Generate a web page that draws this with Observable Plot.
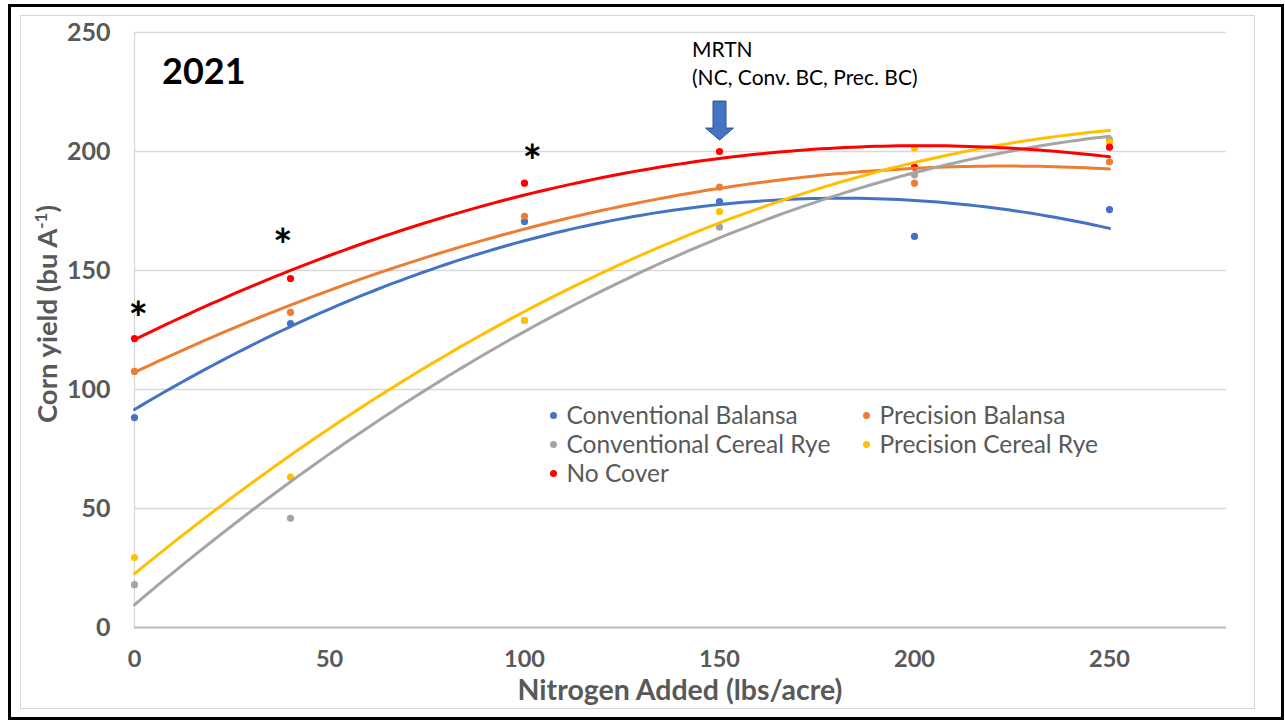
<!DOCTYPE html>
<html><head><meta charset="utf-8">
<script src="https://cdn.jsdelivr.net/npm/d3@7"></script>
<script src="https://cdn.jsdelivr.net/npm/@observablehq/plot@0.6"></script>
<style>
body{margin:0;background:#fff;font-family:Lato,"Open Sans",sans-serif;}
#wrap{position:relative;width:1285px;height:721px;overflow:hidden;background:#fff;}
#outer{position:absolute;left:8px;top:4px;width:1276px;height:716px;border:3px solid #000;box-sizing:border-box;}
#inner{position:absolute;left:20px;top:15px;width:1235px;height:694px;border:1.5px solid #d6d6d6;box-sizing:border-box;}
#chart{position:absolute;left:0;top:0;}
.t{position:absolute;white-space:nowrap;}
#year{left:162px;top:52px;font-size:36px;line-height:36px;font-weight:bold;color:#000;}
#mrtn{left:692px;top:35px;font-size:21px;line-height:28px;color:#000;}
#xtitle{left:180px;width:1000px;top:675px;text-align:center;font-size:28.5px;line-height:28px;font-weight:bold;color:#595959;}
#ytitle{left:-153px;width:400px;top:298px;height:32px;text-align:center;font-size:27.5px;line-height:32px;font-weight:bold;color:#595959;transform:rotate(-90deg);}
#ytitle sup{font-size:17px;line-height:0;vertical-align:10px;}
.lg{position:absolute;font-size:24.5px;line-height:28px;color:#595959;white-space:nowrap;}
.lg i{position:absolute;width:7px;height:7px;border-radius:50%;top:11px;}
</style>
</head><body>
<div id="wrap">
  <div id="outer"></div>
  <div id="inner"></div>
  <div id="chart"></div>
  <div class="t" id="year">2021</div>
  <div class="t" id="mrtn">MRTN<br>(NC, Conv. BC, Prec. BC)</div>
  <div class="t" id="xtitle">Nitrogen Added (lbs/acre)</div>
  <div class="t" id="ytitle">Corn yield (bu A<sup>-1</sup>)</div>
  <div id="legend"></div>
</div>
<script>
// ---- data ----
const nitrogen = [0, 40, 100, 150, 200, 250];
const seriesNames = ["Conventional Balansa", "Precision Balansa", "Conventional Cereal Rye", "Precision Cereal Rye", "No Cover"];
const seriesColors = ["#4472c4", "#ed7d31", "#a5a5a5", "#ffc000", "#ff0000"];
const convBalansa = [88.2, 127.7, 170.6, 179.0, 164.3, 175.6];
const precBalansa = [107.6, 132.4, 172.8, 185.0, 186.7, 195.7];
const convRye     = [18.0, 45.9, 129.0, 168.2, 190.2, 205.0];
const precRye     = [29.4, 63.2, 129.0, 174.8, 201.5, 204.0];
const noCover     = [121.4, 146.6, 186.7, 200.0, 193.4, 201.8];
const xTicks = [0, 50, 100, 150, 200, 250];
const yTicks = [0, 50, 100, 150, 200, 250];
const asterisks = [{x: 1, y: 134}, {x: 38, y: 165}, {x: 102, y: 200}];
const mrtnArrow = [{x: 150, y: 213}];

const seriesValues = [convBalansa, precBalansa, convRye, precRye, noCover];
const points = seriesNames.flatMap((s, i) => nitrogen.map((n, j) => ({series: s, x: n, y: seriesValues[i][j]})));

// quadratic least-squares trendline (as Excel's order-2 polynomial trendline)
function quadFit(xs, ys) {
  const S = [0,0,0,0,0], T = [0,0,0];
  xs.forEach((x, i) => { for (let k = 0; k < 5; k++) S[k] += x ** k; for (let k = 0; k < 3; k++) T[k] += ys[i] * x ** k; });
  const A = [[S[0],S[1],S[2],T[0]],[S[1],S[2],S[3],T[1]],[S[2],S[3],S[4],T[2]]];
  for (let c = 0; c < 3; c++) {
    for (let r = c + 1; r < 3; r++) { const f = A[r][c] / A[c][c]; for (let k = c; k < 4; k++) A[r][k] -= f * A[c][k]; }
  }
  const b = [0,0,0];
  for (let r = 2; r >= 0; r--) { let s = A[r][3]; for (let k = r + 1; k < 3; k++) s -= A[r][k] * b[k]; b[r] = s / A[r][r]; }
  return x => b[0] + b[1] * x + b[2] * x * x;
}
const xMin = d3.min(nitrogen), xMax = d3.max(nitrogen);
const trend = seriesNames.flatMap((s, i) => {
  const f = quadFit(nitrogen, seriesValues[i]);
  return d3.range(xMin, xMax + 0.001, 2).map(x => ({series: s, x, y: f(x)}));
});

const arrowSymbol = {
  draw(ctx) {
    ctx.moveTo(-6.5, -19.5); ctx.lineTo(6.5, -19.5); ctx.lineTo(6.5, 7.5); ctx.lineTo(14, 7.5);
    ctx.lineTo(0, 19.5); ctx.lineTo(-14, 7.5); ctx.lineTo(-6.5, 7.5); ctx.closePath();
  }
};

const chart = Plot.plot({
  width: 1285, height: 721,
  marginLeft: 134, marginRight: 59, marginTop: 32, marginBottom: 94,
  x: {domain: [0, 280]},
  y: {domain: [0, 250]},
  color: {domain: seriesNames, range: seriesColors},
  style: {background: "transparent", color: "#595959", fontFamily: "Lato, sans-serif"},
  marks: [
    Plot.gridY(yTicks, {stroke: "#d9d9d9", strokeOpacity: 1, strokeWidth: 1.3}),
    Plot.ruleX([0], {stroke: "#d9d9d9", strokeWidth: 1.3}),
    Plot.ruleY([0], {stroke: "#bfbfbf", strokeWidth: 1.8}),
    Plot.axisX({ticks: xTicks, tickSize: 0, tickPadding: 23, fontSize: 23.5, fontWeight: "bold", label: null}),
    Plot.axisY({ticks: yTicks, tickSize: 0, tickPadding: 24, fontSize: 25, fontWeight: "bold", label: null}),
    Plot.dot(points, {x: "x", y: "y", fill: "series", r: 3.6}),
    Plot.line(trend, {x: "x", y: "y", z: "series", stroke: "series", strokeWidth: 3}),
    Plot.text(asterisks, {x: "x", y: "y", text: () => "*", fontSize: 46, fontWeight: "bold", fill: "#000", dy: 12}),
    Plot.dot(mrtnArrow, {x: "x", y: "y", symbol: arrowSymbol, r: 10, fill: "#4472c4", stroke: "#2f528f", strokeWidth: 1})
  ]
});
document.getElementById("chart").appendChild(chart);

// legend
const legendPos = [[553, 415], [866, 415], [553, 444], [866, 444], [553, 473]];
const lg = document.getElementById("legend");
seriesNames.forEach((s, i) => {
  const d = document.createElement("div");
  d.className = "lg";
  d.style.left = (legendPos[i][0] - 3.5) + "px";
  d.style.top = (legendPos[i][1] - 14) + "px";
  d.innerHTML = `<i style="background:${seriesColors[i]};left:0"></i><span style="margin-left:17px">${s}</span>`;
  lg.appendChild(d);
});
</script>
</body></html>
